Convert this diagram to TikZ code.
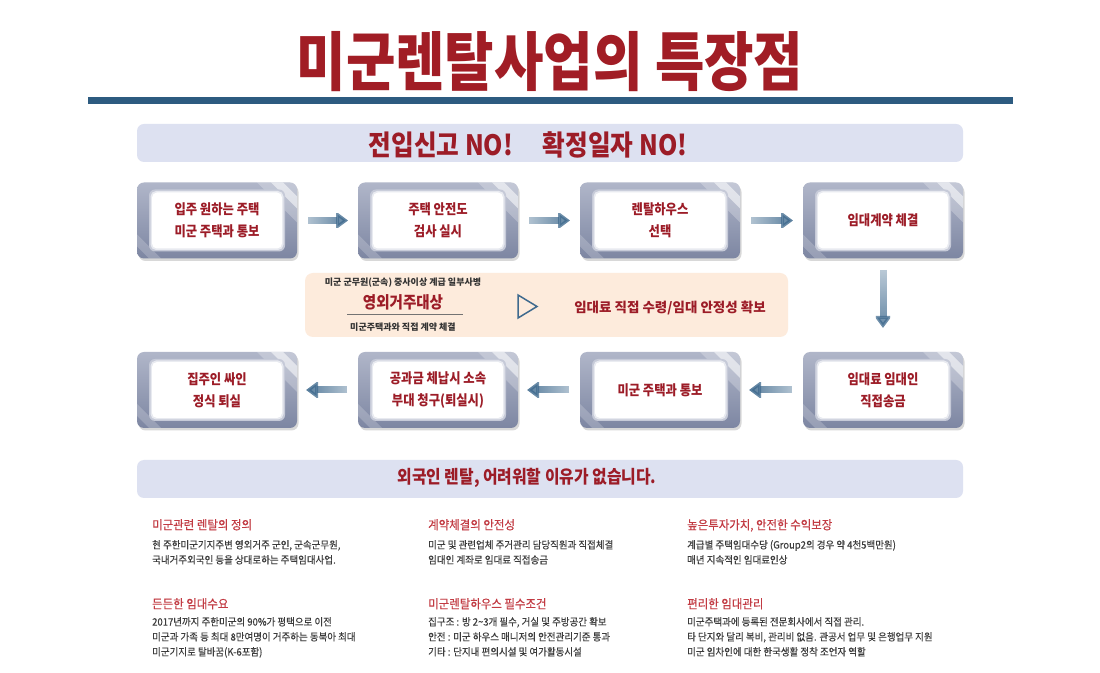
\documentclass[tikz,border=0pt]{standalone}
\usepackage{fontspec}
\newfontfamily\kr{Noto Sans CJK KR}
\newfontfamily\krc{Noto Sans CJK KR}[FakeStretch=0.88]
\newfontfamily\krb{Noto Sans CJK KR}[FakeStretch=0.93,FakeBold=0.35]
\newfontfamily\krt{Noto Sans CJK KR}[FakeStretch=0.84]
\usetikzlibrary{shadows,fadings,calc,arrows.meta}
\definecolor{titlered}{HTML}{A11D25}
\definecolor{boxred}{HTML}{9C1C27}
\definecolor{headred}{HTML}{C23B43}
\definecolor{bodygray}{HTML}{3C3C3C}
\definecolor{barblue}{HTML}{2D5B80}
\definecolor{bannerfill}{HTML}{DDE1F1}
\definecolor{peach}{HTML}{FDEBDC}
\definecolor{arrowblue}{HTML}{3F6A8E}
\definecolor{frametop}{HTML}{B0B6C9}
\definecolor{framebot}{HTML}{7D86A2}
\definecolor{frameedge}{HTML}{C6CAD8}
\definecolor{framesoft}{HTML}{E8EAF0}
\tikzfading[name=fadeR, left color=transparent!75, right color=transparent!0]
\tikzfading[name=fadeL, left color=transparent!0, right color=transparent!75]
\tikzfading[name=fadeD, top color=transparent!75, bottom color=transparent!0]
\tikzset{
  stepbox/.style={rounded corners=7pt, minimum width=160pt, minimum height=76pt,
    inner sep=0pt, outer sep=0pt, top color=frametop, bottom color=framebot,
    drop shadow={shadow xshift=1.5pt, shadow yshift=-2.5pt, opacity=0.3},
    text=boxred, align=center, font=\krc\bfseries\fontsize{14}{22}\selectfont,
    path picture={
      \fill[white, opacity=0.25, sharp corners]
        ($(path picture bounding box.north east)+(-40pt,0pt)$) --
        ($(path picture bounding box.north east)+(0pt,0pt)$) --
        ($(path picture bounding box.north east)+(0pt,-40pt)$) -- cycle;
      \fill[white, opacity=0.55, sharp corners]
        ($(path picture bounding box.north east)+(-26pt,0pt)$) --
        ($(path picture bounding box.north east)+(-14pt,0pt)$) --
        ($(path picture bounding box.north east)+(0pt,-14pt)$) --
        ($(path picture bounding box.north east)+(0pt,-26pt)$) -- cycle;
      \fill[white, opacity=0.2, sharp corners]
        ($(path picture bounding box.south west)+(0pt,12pt)$) --
        ($(path picture bounding box.south west)+(0pt,24pt)$) --
        ($(path picture bounding box.south west)+(24pt,0pt)$) --
        ($(path picture bounding box.south west)+(12pt,0pt)$) -- cycle;
      \fill[frameedge, rounded corners=6pt]
        ($(path picture bounding box.south west)+(12pt,7pt)$) rectangle
        ($(path picture bounding box.north east)+(-12pt,-7pt)$);
      \fill[framesoft, rounded corners=5.5pt]
        ($(path picture bounding box.south west)+(13.5pt,8.5pt)$) rectangle
        ($(path picture bounding box.north east)+(-13.5pt,-8.5pt)$);
      \fill[white, rounded corners=5pt]
        ($(path picture bounding box.south west)+(15pt,10pt)$) rectangle
        ($(path picture bounding box.north east)+(-15pt,-10pt)$);
    }},
  flowarrow/.style={arrowblue, line width=7pt, -{Triangle[length=12pt,width=17pt]}},
  arrowR/.style={flowarrow, path fading=fadeR, shorten <=11pt, shorten >=10pt},
  arrowL/.style={flowarrow, path fading=fadeL, shorten <=11pt, shorten >=9pt},
  arrowD/.style={flowarrow, path fading=fadeD, shorten <=11.5pt, shorten >=24pt},
  banner/.style={fill=bannerfill, rounded corners=7pt, minimum width=826pt, minimum height=38pt, inner sep=0pt},
  bantext/.style={text=boxred, inner sep=0pt},
  colhead/.style={anchor=base west, inner sep=0pt, text=headred, font=\krb\fontsize{12.3}{12.3}\selectfont},
  colbody/.style={anchor=base west, inner sep=0pt, text=bodygray, font=\krb\fontsize{10.2}{10.2}\selectfont},
  smalltext/.style={inner sep=0pt, text=black!80, font=\kr\bfseries\fontsize{9}{9}\selectfont}
}
\begin{document}
\begin{tikzpicture}[x=1pt,y=1pt]
\useasboundingbox (0,0) rectangle (1100,672);
\fill[white] (0,0) rectangle (1100,672);
% title
\node[inner sep=0pt, text=titlered, font=\krt\bfseries\fontsize{64}{64}\selectfont] (title) at (550,610) {미군렌탈사업의 특장점};
\fill[barblue] (88,568) rectangle (1013,575);
% banner 1
\node[banner] (ban1) at (550,529) {};
\node[bantext, font=\krc\bfseries\fontsize{28}{28}\selectfont] (ban1t) at (528,527.5) {전입신고 NO!\hspace{30pt}확정일자 NO!};
% row 1
\node[stepbox] (b1) at (217,451.5) {입주 원하는 주택\\미군 주택과 통보};
\node[stepbox] (b2) at (438,451.5) {주택 안전도\\검사 실시};
\node[stepbox] (b3) at (660,451.5) {렌탈하우스\\선택};
\node[stepbox] (b4) at (883,451.5) {임대계약 체결};
% row 2
\node[stepbox] (c4) at (883,282) {임대료 임대인\\직접송금};
\node[stepbox] (c3) at (660,282) {미군 주택과 통보};
\node[stepbox] (c2) at (438,282) {공과금 체납시 소속\\부대 청구(퇴실시)};
\node[stepbox] (c1) at (217,282) {집주인 싸인\\정식 퇴실};
% arrows
\draw[arrowR] (b1) -- (b2);
\draw[arrowR] (b2) -- (b3);
\draw[arrowR] (b3) -- (b4);
\draw[arrowD] (b4) -- (c4);
\draw[arrowL] (c4) -- (c3);
\draw[arrowL] (c3) -- (c2);
\draw[arrowL] (c2) -- (c1);
% info box
\node[fill=peach, rounded corners=8pt, minimum width=483pt, minimum height=64pt, inner sep=0pt] (info) at (546.5,367) {};
\node[smalltext] (i1) at (403,389) {미군 군무원(군속) 중사이상 계급 일부사병};
\node[inner sep=0pt, text=boxred, font=\krc\bfseries\fontsize{16.5}{16.5}\selectfont] (i2) at (403,370) {영외거주대상};
\draw[black!55, line width=0.6pt] (347,358) -- (463,358);
\node[smalltext] (i3) at (403,345) {미군주택과와 직접 계약 체결};
\draw[arrowblue, line width=1.5pt, line join=miter] (518,377) -- (537,365.5) -- (518,354) -- cycle;
\node[inner sep=0pt, text=boxred, font=\kr\bfseries\fontsize{13.5}{13.5}\selectfont] (i4) at (670,364) {임대료 직접 수령/임대 안정성 확보};
% banner 2
\node[banner] (ban2) at (550,193) {};
\node[bantext, font=\krc\bfseries\fontsize{18}{18}\selectfont] (ban2t) at (527,194) {외국인 렌탈, 어려워할 이유가 없습니다.};
% column 1
\node[colhead] (h11) at (152,142.6) {미군관련 렌탈의 정의};
\node[colbody] (t111) at (152,123.4) {현 주한미군기지주변 영외거주 군인, 군속군무원,};
\node[colbody] (t112) at (152,108.4) {국내거주외국인 등을 상대로하는 주택임대사업.};
\node[colhead] (h12) at (152,63.6) {든든한 임대수요};
\node[colbody] (t121) at (152,46.4) {2017년까지 주한미군의 90\%가 평택으로 이전};
\node[colbody] (t122) at (152,31.4) {미군과 가족 등 최대 8만여명이 거주하는 동북아 최대};
\node[colbody] (t123) at (152,16.4) {미군기지로 탈바꿈(K-6포함)};
% column 2
\node[colhead] (h21) at (428,142.6) {계약체결의 안전성};
\node[colbody] (t211) at (428,123.4) {미군 및 관련업체 주거관리 담당직원과 직접체결};
\node[colbody] (t212) at (428,108.4) {임대인 계좌로 임대료 직접송금};
\node[colhead] (h22) at (428,63.6) {미군렌탈하우스 필수조건};
\node[colbody] (t221) at (428,46.4) {집구조 : 방 2\textasciitilde 3개 필수, 거실 및 주방공간 확보};
\node[colbody] (t222) at (428,31.4) {안전 : 미군 하우스 매니저의 안전관리기준 통과};
\node[colbody] (t223) at (428,16.4) {기타 : 단지내 편의시설 및 여가활동시설};
% column 3
\node[colhead] (h31) at (687,142.6) {높은투자가치, 안전한 수익보장};
\node[colbody] (t311) at (687,123.4) {계급별 주택임대수당 (Group2의 경우 약 4천5백만원)};
\node[colbody] (t312) at (687,108.4) {매년 지속적인 임대료인상};
\node[colhead] (h32) at (687,63.6) {편리한 임대관리};
\node[colbody] (t321) at (687,46.4) {미군주택과에 등록된 전문회사에서 직접 관리.};
\node[colbody] (t322) at (687,31.4) {타 단지와 달리 복비, 관리비 없음. 관공서 업무 및 은행업무 지원};
\node[colbody] (t323) at (687,16.4) {미군 임차인에 대한 한국생활 정착 조언자 역할};
\end{tikzpicture}
\end{document}
